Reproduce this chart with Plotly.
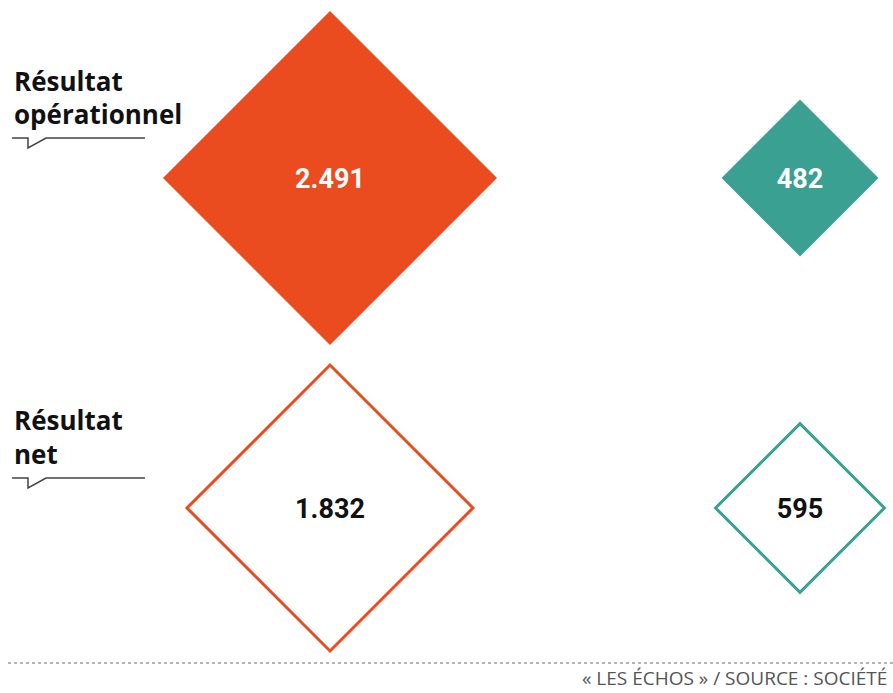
import plotly.graph_objects as go

# ---- data ----
rows = ["Résultat opérationnel", "Résultat net"]
row_label_lines = [["Résultat", "opérationnel"], ["Résultat", "net"]]
operational = [2491, 482]
net = [1832, 595]
colors = ["#EA4C1F", "#3AA192"]
source = "« LES ÉCHOS » / SOURCE : SOCIÉTÉ"

W, H = 893, 693
COL_PX = (330, 800)
ROW_PX = (178, 508)
TEXT_SHIFT = 3  # px


def half_size(v):
    return 4.575 * v ** 0.46


def fmt(v):
    return f"{v:,}".replace(",", ".")


dx = COL_PX[1] - COL_PX[0]
dy = ROW_PX[1] - ROW_PX[0]

fig = go.Figure()

# filled diamonds (résultat opérationnel)
fig.add_trace(go.Scatter(
    x=[0, 1], y=[0, 0], mode="markers",
    marker=dict(symbol="diamond", size=[half_size(v) / 0.65 for v in operational],
                color=colors, opacity=1, line=dict(width=0)),
    hoverinfo="skip", showlegend=False, cliponaxis=False,
))

# outlined diamonds (résultat net)
fig.add_trace(go.Scatter(
    x=[0, 1], y=[1, 1], mode="markers",
    marker=dict(symbol="diamond-open", size=[(half_size(v) - 2) / 0.65 for v in net],
                color=colors, opacity=1, line=dict(width=3, color=colors)),
    hoverinfo="skip", showlegend=False, cliponaxis=False,
))

# value labels
fig.add_trace(go.Scatter(
    x=[0, 1], y=[0 + TEXT_SHIFT / dy] * 2, mode="text",
    text=[fmt(v) for v in operational], textposition="middle center",
    textfont=dict(family="Roboto", size=27, color="white", weight="bold"),
    hoverinfo="skip", showlegend=False, cliponaxis=False,
))
fig.add_trace(go.Scatter(
    x=[0, 1], y=[1 + TEXT_SHIFT / dy] * 2, mode="text",
    text=[fmt(v) for v in net], textposition="middle center",
    textfont=dict(family="Roboto", size=27, color="#111111", weight="bold"),
    hoverinfo="skip", showlegend=False, cliponaxis=False,
))

fig.update_xaxes(range=[-COL_PX[0] / dx, (W - COL_PX[0]) / dx], visible=False, fixedrange=True)
fig.update_yaxes(range=[(H - ROW_PX[0]) / dy, -ROW_PX[0] / dy], visible=False, fixedrange=True)

annotations = []
shapes = []
label_centers = [(81, 114), (420, 454)]
underline_y = [138, 478]
for lines, centers, uy in zip(row_label_lines, label_centers, underline_y):
    for txt, cy in zip(lines, centers):
        annotations.append(dict(
            text=txt, x=12 / W, y=1 - cy / H, xref="paper", yref="paper",
            xanchor="left", yanchor="middle", showarrow=False,
            font=dict(family="Open Sans", size=26, color="#111111", weight="bold"),
        ))
    path = (f"M {12/W} {1-uy/H} L {28/W} {1-uy/H} L {28/W} {1-(uy+10)/H} "
            f"L {46/W} {1-uy/H} L {145/W} {1-uy/H}")
    shapes.append(dict(type="path", path=path, xref="paper", yref="paper",
                       line=dict(color="#444444", width=1.5)))

# dotted separator
shapes.append(dict(type="line", x0=8 / W, x1=1, y0=1 - 663 / H, y1=1 - 663 / H,
                   xref="paper", yref="paper",
                   line=dict(color="#9a9a9a", width=1.5, dash="dot")))

annotations.append(dict(
    text=source, x=889 / W, y=1 - 678 / H, xref="paper", yref="paper",
    xanchor="right", yanchor="middle", showarrow=False,
    font=dict(family="Open Sans", size=19, color="#555555"),
))

fig.update_layout(
    width=W, height=H, margin=dict(l=0, r=0, t=0, b=0),
    paper_bgcolor="white", plot_bgcolor="white",
    annotations=annotations, shapes=shapes,
)

fig.write_html("out.html", config={"displayModeBar": False})
